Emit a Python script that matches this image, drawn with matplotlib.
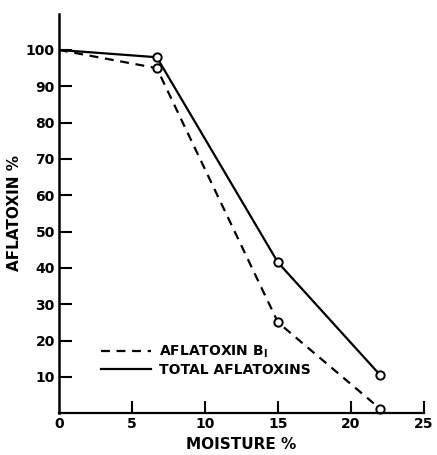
import matplotlib.pyplot as plt

# data
moisture = [0, 6.7, 15, 22]
total_aflatoxins = [100, 98, 41.5, 10.5]
aflatoxin_b1 = [100, 95, 25, 1.2]
xticks = [0, 5, 10, 15, 20, 25]
yticks = [10, 20, 30, 40, 50, 60, 70, 80, 90, 100]

plt.rcParams['font.family'] = 'DejaVu Sans'
fig = plt.figure(figsize=(4.37, 4.55), dpi=100)
ax = fig.add_axes([0.135, 0.092, 0.835, 0.878])

ax.plot(moisture, aflatoxin_b1, color='black', linestyle=(0, (4, 3)), linewidth=1.6,
        label='AFLATOXIN B$_\\mathregular{I}$')
ax.plot(moisture, total_aflatoxins, color='black', linestyle='-', linewidth=1.6,
        label='TOTAL AFLATOXINS')
ax.plot(moisture[1:], aflatoxin_b1[1:], linestyle='none', marker='o', markersize=6,
        markerfacecolor='white', markeredgecolor='black', markeredgewidth=1.4, clip_on=False)
ax.plot(moisture[1:], total_aflatoxins[1:], linestyle='none', marker='o', markersize=6,
        markerfacecolor='white', markeredgecolor='black', markeredgewidth=1.4, clip_on=False)

ax.set_xlim(0, 25)
ax.set_ylim(0, 110)
ax.set_xticks(xticks)
ax.set_yticks(yticks)
ax.tick_params(direction='in', length=9, width=1.5, labelsize=10, pad=3)
ax.xaxis.get_major_ticks()[0].tick1line.set_visible(False)
for lbl in ax.get_xticklabels() + ax.get_yticklabels():
    lbl.set_fontweight('bold')
ax.spines['top'].set_visible(False)
ax.spines['right'].set_visible(False)
ax.spines['left'].set_linewidth(1.8)
ax.spines['bottom'].set_linewidth(1.6)

ax.set_xlabel('MOISTURE %', fontsize=11, fontweight='bold', labelpad=4)
ax.set_ylabel('AFLATOXIN %', fontsize=11, fontweight='bold', labelpad=3)

ax.legend(loc='lower left', bbox_to_anchor=(0.08, 0.06), frameon=False, handlelength=3.6,
          prop={'weight': 'bold', 'size': 10}, labelspacing=0.2, handletextpad=0.6)

fig.savefig('out.png', dpi=100)
